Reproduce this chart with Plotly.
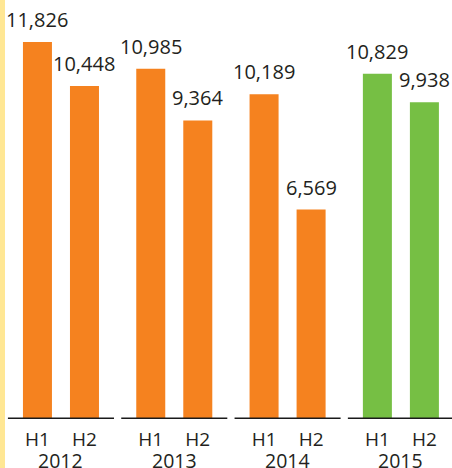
import plotly.graph_objects as go

years = ["2012", "2013", "2014", "2015"]
halves = ["H1", "H2"]
h1_values = [11826, 10985, 10189, 10829]
h2_values = [10448, 9364, 6569, 9938]
bar_colors = ["#F5821F", "#F5821F", "#F5821F", "#76BF44"]

offset = 0.2075
bar_w = 0.256
line_half = 0.468
text_color = "#231F20"
font_family = "Open Sans, Noto Sans, sans-serif"

fig = go.Figure()
xs, ys, cols, labels = [], [], [], []
for i, y in enumerate(years):
    for j, v in enumerate([h1_values[i], h2_values[i]]):
        xs.append(i + (-offset if j == 0 else offset))
        ys.append(v)
        cols.append(bar_colors[i])
        labels.append(halves[j])

fig.add_trace(go.Bar(x=xs, y=ys, width=bar_w, marker=dict(color=cols, line=dict(width=0)),
                     hoverinfo="skip"))

annotations = []
for x, v in zip(xs, ys):
    annotations.append(dict(x=x, y=v, xref="x", yref="y", text=f"{v:,}", showarrow=False,
                            yanchor="bottom", yshift=7,
                            font=dict(size=20, color=text_color, family=font_family)))
for i, y in enumerate(years):
    annotations.append(dict(x=i, y=0, xref="x", yref="y", text=y, showarrow=False,
                            yanchor="middle", yshift=-41,
                            font=dict(size=19.5, color=text_color, family=font_family)))

shapes = []
for i in range(len(years)):
    shapes.append(dict(type="line", xref="x", yref="y", x0=i - line_half, x1=i + line_half,
                       y0=0, y1=0, line=dict(color="#1a1a1a", width=3), layer="above"))
shapes.append(dict(type="rect", xref="paper", yref="paper", x0=0, x1=5 / 452,
                   y0=-0.2, y1=1.0, fillcolor="#FFE794", line=dict(width=0), layer="below"))

fig.update_layout(
    width=452, height=468,
    margin=dict(l=0, r=0, t=0, b=49),
    plot_bgcolor="white", paper_bgcolor="white",
    showlegend=False,
    annotations=annotations,
    shapes=shapes,
    xaxis=dict(range=[-0.538, 3.451], tickvals=xs, ticktext=labels, showgrid=False,
               zeroline=False, showline=False, ticks="", ticklabelstandoff=7,
               tickfont=dict(size=19, color=text_color, family=font_family)),
    yaxis=dict(range=[0, 13143], visible=False, showgrid=False, zeroline=False),
)
fig.write_html("out.html")
